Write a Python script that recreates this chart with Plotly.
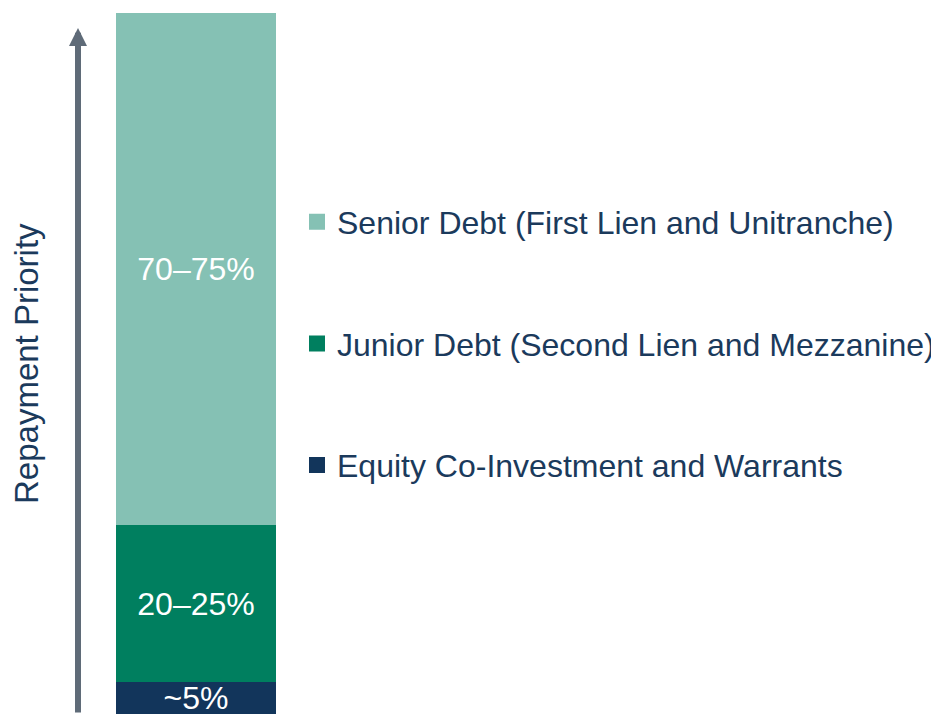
import plotly.graph_objects as go

# ---- data (bottom to top of the stack) ----
segments = ["Equity Co-Investment and Warrants",
            "Junior Debt (Second Lien and Mezzanine)",
            "Senior Debt (First Lien and Unitranche)"]
shares = [4.5, 22.5, 73.0]
labels = ["~5%", "20–25%", "70–75%"]
colors = ["#12355B", "#007F5F", "#85C1B4"]
category = ["Capital Structure"]
axis_title = "Repayment Priority"

TEXT = "#1B3A5C"
FONT = "Liberation Sans, Arial, sans-serif"

fig = go.Figure()

for name, val, lab, col in zip(segments, shares, labels, colors):
    fig.add_trace(go.Bar(
        x=category, y=[val], name=name, marker=dict(color=col, line=dict(width=0)),
        text=[lab], textposition="inside", insidetextanchor="middle",
        textfont=dict(color="white", size=32, family=FONT),
        constraintext="none", cliponaxis=False, showlegend=False,
        hoverinfo="name+y",
    ))

# legend entries (top to bottom: Senior, Junior, Equity)
for i, (name, col) in enumerate(reversed(list(zip(segments, colors)))):
    fig.add_trace(go.Scatter(
        x=[None], y=[None], mode="markers", name=name, legendgroup=f"g{i}",
        marker=dict(symbol="square", size=16, color=col, line=dict(width=0)),
    ))

# plot area on screen: x 116..276, y 13..714 (page has an 8px body margin)
def px(sx):
    return (sx - 116) / 160

def py(sy):
    return (714 - sy) / 701

# priority arrow
fig.add_annotation(
    x=px(78), y=py(28), xref="paper", yref="paper",
    text="", showarrow=True, ax=0, ay=700, axref="pixel", ayref="pixel",
    arrowhead=2, arrowwidth=6, arrowsize=0.6, arrowcolor="#5F6B78", standoff=0,
)
fig.add_annotation(
    x=px(27), y=py(364), xref="paper", yref="paper",
    xanchor="center", yanchor="middle",
    text=axis_title, textangle=-90, showarrow=False,
    font=dict(size=33, color=TEXT, family=FONT),
)

fig.update_layout(
    width=931, height=706,
    margin=dict(l=108, r=663, t=5, b=0, autoexpand=False),
    barmode="stack", bargap=0,
    paper_bgcolor="white", plot_bgcolor="white",
    font=dict(family=FONT, color=TEXT),
    xaxis=dict(visible=False),
    yaxis=dict(visible=False, range=[0, 100]),
    showlegend=True,
    legend=dict(
        x=px(297), xanchor="left",
        y=py(343.5), yanchor="middle",
        traceorder="grouped", tracegroupgap=77,
        font=dict(size=32, color=TEXT, family=FONT),
        bgcolor="rgba(0,0,0,0)",
    ),
)

fig.write_html("out.html")
